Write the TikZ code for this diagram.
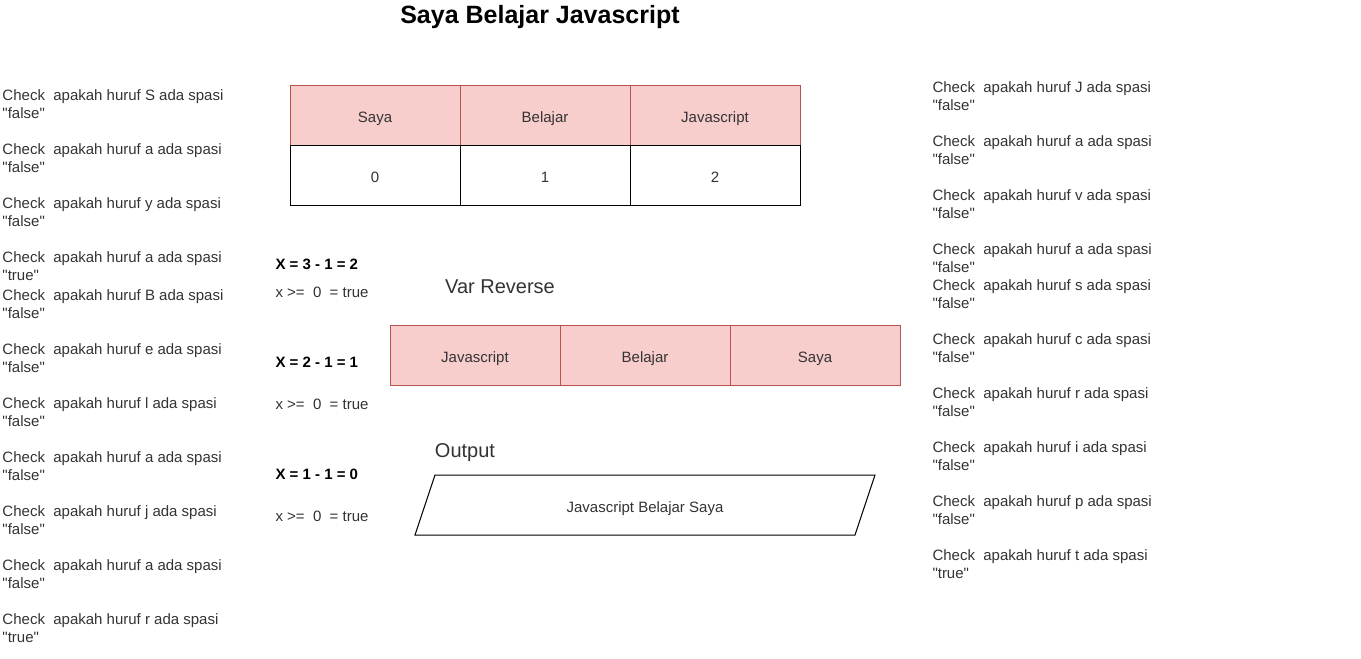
\documentclass[tikz,border=0pt]{standalone}
\usepackage{fontspec}
\setmainfont{Liberation Sans}
\usetikzlibrary{positioning,calc}
\definecolor{cellred}{HTML}{F8CECC}
\definecolor{cellline}{HTML}{B85450}
\definecolor{txt}{HTML}{333333}
\newcommand{\dq}{\XeTeXglyph\XeTeXcharglyph"22\relax}

\begin{document}
\begin{tikzpicture}[x=0.75pt,y=-0.75pt,line width=0.75pt,node distance=127.5pt,
  head/.style={draw=cellline,fill=cellred,minimum width=127.5pt,minimum height=45pt,inner sep=0pt,outer sep=0pt,text height=11pt,text depth=0pt,text=txt,font=\fontsize{11.25}{13.5}\selectfont},
  cell/.style={draw=black,minimum width=127.5pt,minimum height=45pt,inner sep=0pt,outer sep=0pt,text height=11pt,text depth=0pt,text=txt,font=\fontsize{11.25}{13.5}\selectfont},
  note/.style={anchor=west,align=left,inner sep=0pt,text=txt,font=\fontsize{11.25}{13.5}\selectfont},
  calcline/.style={anchor=west,inner sep=0pt,font=\bfseries\fontsize{11.25}{13.5}\selectfont},
  big/.style={inner sep=0pt,text=txt,font=\fontsize{15}{18}\selectfont}]
\useasboundingbox (0,0) rectangle (1361,658);

\node[font=\bfseries\fontsize{18.75}{22}\selectfont] (title) at (540,17) {Saya Belajar Javascript};

% index table
\node[head] (H0) at (375,115) {Saya};
\node[head, right of=H0] (H1) {Belajar};
\node[head, right of=H1] (H2) {Javascript};
\node[cell, below of=H0, node distance=45pt] (I0) {0};
\node[cell, below of=H1, node distance=45pt] (I1) {1};
\node[cell, below of=H2, node distance=45pt] (I2) {2};

% checks per letter
\foreach \ch/\val/\y [count=\i] in {S/false/104, a/false/158, y/false/212, a/true/266, B/false/304, e/false/358, l/false/412, a/false/466, j/false/520, a/false/574, r/true/628}
  \node[note] (L\i) at (2,\y) {Check\ \ apakah huruf \ch\ ada spasi\\\dq\val\dq};
\foreach \ch/\val/\y [count=\i] in {J/false/96, a/false/150, v/false/204, a/false/258, s/false/294, c/false/348, r/false/402, i/false/456, p/false/510, t/true/564}
  \node[note] (R\i) at (932,\y) {Check\ \ apakah huruf \ch\ ada spasi\\\dq\val\dq};

% loop steps
\node[calcline] (X2) at (275,264) {X = 3 - 1 = 2};
\node[note] (T2) at (275,292) {x >=\ \ 0\ \ = true};
\node[calcline] (X1) at (275,362) {X = 2 - 1 = 1};
\node[note] (T1) at (275,404) {x >=\ \ 0\ \ = true};
\node[calcline] (X0) at (275,474) {X = 1 - 1 = 0};
\node[note] (T0) at (275,516) {x >=\ \ 0\ \ = true};

% reversed
\node[big] (rev) at (500,287) {Var Reverse};
\node[head] (V0) at (475,355) {Javascript};
\node[head, right of=V0] (V1) {Belajar};
\node[head, right of=V1] (V2) {Saya};

% output
\node[big] (out) at (465,453) {Output};
\draw (435,475) -- (875,475) -- (855,535) -- (415,535) -- cycle;
\node[note, anchor=center, text height=11pt, text depth=0pt] (result) at (645,505) {Javascript Belajar Saya};

\end{tikzpicture}
\end{document}
